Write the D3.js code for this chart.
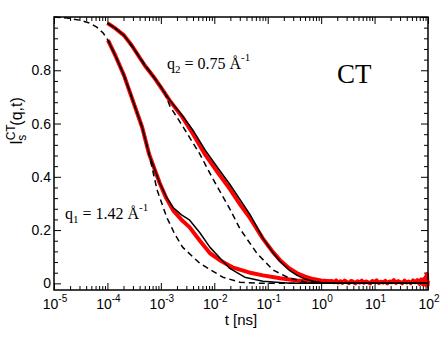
<!DOCTYPE html>
<html>
<head>
<meta charset="utf-8">
<script src="https://cdn.jsdelivr.net/npm/d3@7"></script>
<style>
  body { margin: 0; background: #fff; }
  svg { display: block; }
  .axis path, .axis line { stroke: #000; }
</style>
</head>
<body>
<div id="chart"></div>
<script>
// x values are log10(t / ns), y values are I_s^CT(q,t)
const decadeExps = [-5, -4, -3, -2, -1, 0, 1, 2];
const yTickValues = [0, 0.2, 0.4, 0.6, 0.8];

// q2 = 0.75, simulation (red)
const q2Sim = [
  [-4.0, 0.977], [-3.85, 0.957], [-3.69, 0.931], [-3.55, 0.895], [-3.45, 0.864],
  [-3.3, 0.818], [-3.13, 0.774], [-2.98, 0.73], [-2.83, 0.685], [-2.6, 0.625],
  [-2.4, 0.562], [-2.17, 0.483], [-1.93, 0.415], [-1.71, 0.355], [-1.52, 0.297],
  [-1.33, 0.245], [-1.09, 0.168], [-0.9, 0.117], [-0.77, 0.087], [-0.6, 0.057],
  [-0.45, 0.038], [-0.3, 0.025], [-0.15, 0.016], [0.0, 0.011], [0.16, 0.008],
  [0.20, 0.009], [0.24, 0.004], [0.28, 0.011], [0.32, 0.003], [0.36, 0.008],
  [0.40, 0.002], [0.44, 0.010], [0.48, 0.005], [0.52, 0.001], [0.56, 0.009],
  [0.60, 0.006], [0.64, 0.000], [0.68, 0.008], [0.72, 0.003], [0.76, 0.010],
  [0.80, 0.002], [0.84, 0.007], [0.88, 0.004], [0.92, 0.000], [0.96, 0.009],
  [1.00, 0.005], [1.04, 0.011], [1.08, 0.001], [1.12, 0.006], [1.16, 0.003],
  [1.20, 0.009], [1.24, 0.000], [1.28, 0.007], [1.32, 0.004], [1.36, 0.012],
  [1.40, 0.002], [1.44, 0.008], [1.48, 0.005], [1.52, 0.000], [1.56, 0.010],
  [1.60, 0.003], [1.64, 0.007], [1.68, 0.001], [1.72, 0.011], [1.76, 0.004],
  [1.80, 0.012], [1.84, -0.002], [1.87, 0.014], [1.90, -0.003], [1.92, 0.016],
  [1.94, -0.004], [1.96, 0.025], [1.97, -0.006], [1.98, 0.035], [1.99, -0.008],
  [2.0, 0.010]
];
// q2 model (black solid)
const q2Model = [
  [-4.0, 0.977], [-3.85, 0.957], [-3.69, 0.931], [-3.55, 0.895], [-3.45, 0.864],
  [-3.3, 0.818], [-3.13, 0.774], [-2.98, 0.73], [-2.83, 0.687], [-2.6, 0.63],
  [-2.4, 0.575], [-2.17, 0.50], [-1.93, 0.432], [-1.71, 0.372], [-1.52, 0.315],
  [-1.33, 0.258], [-1.09, 0.17], [-0.9, 0.115], [-0.77, 0.083], [-0.6, 0.05],
  [-0.45, 0.03], [-0.3, 0.016], [-0.15, 0.008], [0.0, 0.003], [0.2, 0.0], [2.0, 0.0]
];
// q2 model (black dashed)
const q2Dash = [
  [-4.0, 0.977], [-3.85, 0.957], [-3.69, 0.931], [-3.45, 0.864], [-3.13, 0.774],
  [-2.94, 0.722], [-2.83, 0.665], [-2.57, 0.583], [-2.27, 0.485], [-2.02, 0.39],
  [-1.71, 0.28], [-1.52, 0.205], [-1.2, 0.112], [-0.9, 0.05], [-0.6, 0.02],
  [-0.3, 0.005], [0.0, 0.0], [2.0, 0.0]
];

// q1 = 1.42, simulation (red)
const q1Sim = [
  [-3.99, 0.913], [-3.84, 0.85], [-3.69, 0.781], [-3.5, 0.672], [-3.35, 0.586],
  [-3.22, 0.485], [-3.12, 0.43], [-3.02, 0.376], [-2.9, 0.32], [-2.77, 0.274],
  [-2.62, 0.24], [-2.46, 0.21], [-2.27, 0.16], [-2.08, 0.113], [-1.89, 0.086],
  [-1.66, 0.06], [-1.35, 0.041], [-1.09, 0.03], [-0.77, 0.019], [-0.45, 0.011],
  [0.0, 0.007], [0.2, 0.006]
];
// q1 model (black solid)
const q1Model = [
  [-3.99, 0.913], [-3.84, 0.85], [-3.69, 0.781], [-3.5, 0.672], [-3.35, 0.586],
  [-3.22, 0.485], [-3.12, 0.43], [-3.02, 0.376], [-2.9, 0.325], [-2.77, 0.285],
  [-2.62, 0.258], [-2.46, 0.237], [-2.27, 0.19], [-2.08, 0.135], [-1.89, 0.094],
  [-1.71, 0.056], [-1.43, 0.023], [-1.09, 0.008], [-0.58, 0.0], [2.0, 0.0]
];
// q1 model (black dashed)
const q1Dash = [
  [-5.0, 1.0], [-4.75, 0.996], [-4.51, 0.988], [-4.33, 0.977], [-4.2, 0.962],
  [-4.08, 0.94], [-3.99, 0.913], [-3.84, 0.85], [-3.69, 0.781], [-3.5, 0.672],
  [-3.35, 0.586], [-3.22, 0.485], [-3.07, 0.35], [-2.89, 0.248], [-2.74, 0.185],
  [-2.59, 0.135], [-2.27, 0.075], [-1.84, 0.023], [-1.52, 0.004], [-1.14, 0.0],
  [2.0, 0.0]
];

const W = 443, H = 342;
const margin = {top: 17, right: 15, bottom: 52, left: 54},
  width = W - margin.left - margin.right,
  height = H - margin.top - margin.bottom;

const svg = d3.select("#chart")
  .append("svg")
  .attr("width", W)
  .attr("height", H)
  .append("g")
  .attr("transform", `translate(${margin.left}, ${margin.top})`);

const x = d3.scaleLog()
  .domain([1e-5, 1e2])
  .range([0, width]);

const y = d3.scaleLinear()
  .domain([-0.025, 1])
  .range([height, 0]);

const majorX = decadeExps.map(e => Math.pow(10, e));
let minorX = [];
decadeExps.slice(0, -1).forEach(e => {
  for (let k = 2; k <= 9; k++) minorX.push(k * Math.pow(10, e));
});
const majorY = [0, 0.2, 0.4, 0.6, 0.8, 1.0];
const minorY = d3.range(-0.0, 1.0001, 0.04).filter(v => majorY.every(m => Math.abs(m - v) > 1e-6));

function tickAxis(axisFn, scale, values, size, transform) {
  svg.append("g")
    .attr("class", "axis")
    .attr("transform", transform)
    .call(axisFn(scale).tickValues(values).tickSize(-size).tickSizeOuter(0).tickFormat(""))
    .call(g => g.select(".domain").remove())
    .call(g => g.selectAll("line").attr("stroke-width", 1));
}

// ticks point inwards on all four sides
tickAxis(d3.axisBottom, x, majorX, 7, `translate(0, ${height})`);
tickAxis(d3.axisBottom, x, minorX, 4, `translate(0, ${height})`);
tickAxis(d3.axisTop, x, majorX, 7, "translate(0, 0)");
tickAxis(d3.axisTop, x, minorX, 4, "translate(0, 0)");
tickAxis(d3.axisLeft, y, majorY, 7, "translate(0, 0)");
tickAxis(d3.axisLeft, y, minorY, 4, "translate(0, 0)");
tickAxis(d3.axisRight, y, majorY, 7, `translate(${width}, 0)`);
tickAxis(d3.axisRight, y, minorY, 4, `translate(${width}, 0)`);

// curves
const line = d3.line()
  .x(d => x(Math.pow(10, d[0])))
  .y(d => y(d[1]));

const plot = svg.append("g");

function drawLine(data, color, w, dash) {
  plot.append("path")
    .datum(data)
    .attr("fill", "none")
    .attr("stroke", color)
    .attr("stroke-width", w)
    .attr("stroke-linejoin", "round")
    .attr("stroke-dasharray", dash || null)
    .attr("d", line);
}

drawLine(q1Sim, "#ff0000", 4);
drawLine(q2Sim, "#ff0000", 4);
drawLine(q1Model, "#000", 1.5);
drawLine(q2Model, "#000", 1.5);
drawLine(q1Dash, "#000", 1.5, "6,4");
drawLine(q2Dash, "#000", 1.5, "6,4");

// frame
svg.append("rect")
  .attr("width", width)
  .attr("height", height)
  .attr("fill", "none")
  .attr("stroke", "#000")
  .attr("stroke-width", 1.5);

// tick labels
const sans = "'Liberation Sans', Arial, sans-serif";
const serif = "'Liberation Serif', 'Times New Roman', serif";

svg.selectAll(".ylab")
  .data(yTickValues)
  .enter()
  .append("text")
  .attr("x", -3)
  .attr("y", d => y(d))
  .attr("dy", "0.36em")
  .attr("text-anchor", "end")
  .style("font-family", sans)
  .style("font-size", "14px")
  .text(d => d === 0 ? "0" : d3.format(".1f")(d));

const xl = svg.selectAll(".xlab")
  .data(decadeExps)
  .enter()
  .append("text")
  .attr("x", d => x(Math.pow(10, d)) + 1)
  .attr("y", height + 19)
  .attr("text-anchor", "middle")
  .style("font-family", sans)
  .style("font-size", "14px");
xl.append("tspan").text("10");
xl.append("tspan")
  .attr("dy", -7)
  .style("font-size", "10px")
  .text(d => d);

// axis titles
svg.append("text")
  .attr("x", width / 2)
  .attr("y", height + 35)
  .attr("text-anchor", "middle")
  .style("font-family", sans)
  .style("font-size", "15px")
  .text("t [ns]");

const yt = svg.append("text")
  .attr("transform", `translate(${-32}, ${104}) rotate(-90)`)
  .attr("text-anchor", "middle")
  .style("font-family", sans)
  .style("font-size", "16px");
yt.append("tspan").text("I");
yt.append("tspan").attr("dy", -7).style("font-size", "12px").text("CT");
yt.append("tspan").attr("dx", -15).attr("dy", 11).style("font-size", "12px").text("s");
yt.append("tspan").attr("dx", 9).attr("dy", -4).text("(q,t)");

// annotations
function qLabel(px, py, sub, val) {
  const t = svg.append("text")
    .attr("x", px)
    .attr("y", py)
    .style("font-family", serif)
    .style("font-size", "16px");
  t.append("tspan").text("q");
  t.append("tspan").attr("dy", 4).style("font-size", "11px").text(sub);
  t.append("tspan").attr("dy", -4).text(` = ${val} Å`);
  t.append("tspan").attr("dy", -8).style("font-size", "11px").text("-1");
}
qLabel(113, 52, "2", "0.75");
qLabel(11, 202, "1", "1.42");

svg.append("text")
  .attr("x", 283)
  .attr("y", 66)
  .style("font-family", serif)
  .style("font-size", "27px")
  .text("CT");
</script>
</body>
</html>
